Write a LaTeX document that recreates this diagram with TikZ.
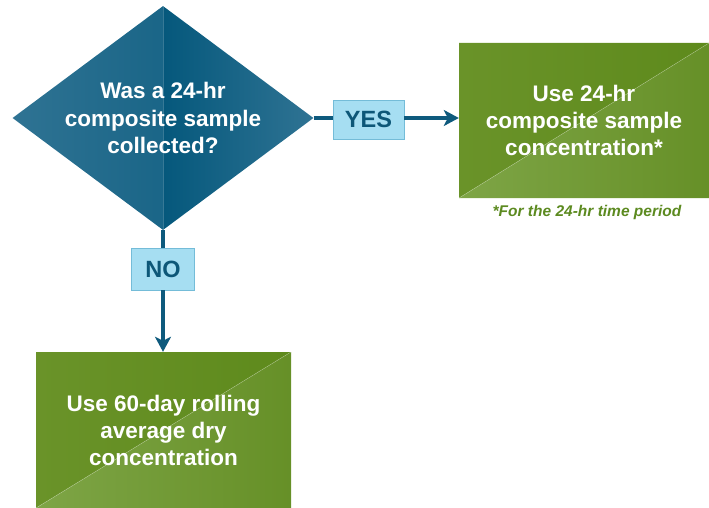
\documentclass[tikz,border=0pt]{standalone}
\usepackage{fontspec}
\setmainfont{Liberation Sans}
\usetikzlibrary{shapes.geometric,arrows.meta}
\definecolor{dblue}{HTML}{05587C}
\definecolor{lblue}{HTML}{2F7393}
\definecolor{linec}{HTML}{0E5A7D}
\definecolor{yesfill}{HTML}{A6DEF2}
\definecolor{yesdraw}{HTML}{74BCD8}
\definecolor{ytext}{HTML}{0D5778}
\definecolor{gdark}{HTML}{5E8A1C}
\definecolor{gmid}{HTML}{6A9329}
\definecolor{glight}{HTML}{7EA546}
\definecolor{fgreen}{HTML}{5C8A20}
\tikzset{
  decision/.style={diamond, inner sep=0pt, minimum width=301pt, minimum height=224pt,
    path picture={
      \shade[left color=lblue, right color=dblue] (path picture bounding box.south west) rectangle (path picture bounding box.north);
      \shade[left color=dblue, right color=lblue] (path picture bounding box.south) rectangle (path picture bounding box.north east);
      \draw[white, opacity=0.2, line width=0.6pt] (path picture bounding box.south) -- (path picture bounding box.north);
    }},
  qtext/.style={text=white, align=center, font=\bfseries\fontsize{22.5}{27.5}\selectfont, inner sep=0pt},
  greenbox/.style={rectangle, inner sep=0pt, text=white, align=center,
    font=\bfseries\fontsize{22.5}{27}\selectfont,
    path picture={
      \shade[left color=gmid, right color=gdark] (path picture bounding box.south west) -- (path picture bounding box.north west) -- (path picture bounding box.north east) -- cycle;
      \shade[left color=glight, right color=gdark!95!white] (path picture bounding box.south west) -- (path picture bounding box.south east) -- (path picture bounding box.north east) -- cycle;
      \draw[white, opacity=0.3, line width=0.5pt] (path picture bounding box.south west) -- (path picture bounding box.north east);
    }},
  tag/.style={rectangle, fill=yesfill, draw=yesdraw, line width=0.8pt, inner sep=0pt,
    text=ytext, font=\bfseries\fontsize{23.5}{26}\selectfont},
  conn/.style={draw=linec, line width=3.2pt},
  arr/.style={conn, -{Stealth[length=15pt,width=16pt,inset=4pt]}},
  note/.style={text=fgreen, font=\bfseries\itshape\fontsize{15.5}{18}\selectfont, inner sep=0pt}
}
\begin{document}
\begin{tikzpicture}[x=1pt,y=-1pt]
\useasboundingbox (0,0) rectangle (709,508);
\node[decision] (q) at (163,118) {};
\node[qtext] (qt) at (163,118) {Was a 24-hr\\composite sample\\collected?};
\node[greenbox, minimum width=250pt, minimum height=155pt] (r) at (584,120.5) {Use 24-hr\\composite sample\\concentration*};
\node[greenbox, minimum width=255pt, minimum height=156pt] (b) at (163.5,430) {Use 60-day rolling\\average dry\\concentration};
\node[tag, minimum width=71pt, minimum height=39pt] (yes) at (368.5,119.5) {YES};
\node[tag, minimum width=63pt, minimum height=42pt] (no) at (163,269) {NO};
\node[note] (fn) at (587,212) {*For the 24-hr time period};
\draw[conn] (q.east) -- (q.east -| yes.west);
\draw[arr] (q.east -| yes.east) -- (q.east -| r.west);
\draw[conn] (q.south) -- (no.north);
\draw[arr] (no.south) -- (no.south |- b.north);
\end{tikzpicture}
\end{document}
